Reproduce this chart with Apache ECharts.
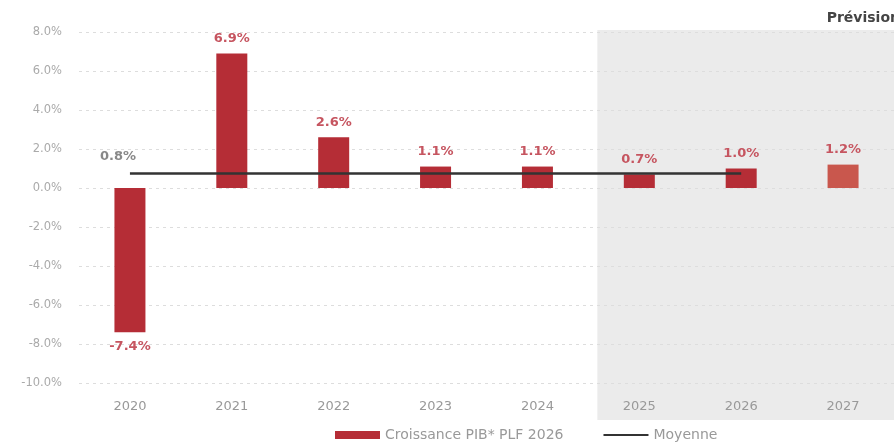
<!DOCTYPE html>
<html><head><meta charset="utf-8">
<script src="https://cdn.jsdelivr.net/npm/echarts@6/dist/echarts.min.js"></script>
<style>html,body{margin:0;padding:0;background:#fff}#c{width:894px;height:445px}</style>
</head><body><div id="c"></div>
<script>
const years = ['2020','2021','2022','2023','2024','2025','2026','2027'];
const growth = [-7.4, 6.9, 2.6, 1.1, 1.1, 0.7, 1.0, 1.2];
const meanValue = 0.75;
const meanLastIndex = 6;
const forecastStart = '2025';
const yTicks = {min: -10, max: 8, interval: 2};
const FONT = 'DejaVu Sans';

const chart = echarts.init(document.getElementById('c'));
const meanData = years.map((y, i) => i <= meanLastIndex ? meanValue : null);
const barData = growth.map((v, i) => ({
  value: v,
  itemStyle: {color: years[i] === '2027' ? '#c9574d' : '#b52d36'},
  label: {position: v < 0 ? 'bottom' : 'top'}
}));

chart.setOption({
  animation: false,
  grid: {left: 79, right: 0, top: 32, bottom: 62},
  legend: {
    top: 423, left: 330, padding: 5,
    itemWidth: 45, itemHeight: 8, itemGap: 40,
    textStyle: {fontFamily: FONT, fontSize: 14, color: '#999'},
    data: [
      {name: 'Croissance PIB* PLF 2026', icon: 'rect'},
      {name: 'Moyenne', icon: 'path://M0,3 L45,3 L45,5 L0,5 Z'}
    ]
  },
  xAxis: {
    type: 'category', data: years,
    axisLine: {show: false}, axisTick: {show: false},
    axisLabel: {fontFamily: FONT, fontSize: 13, color: '#999', margin: 17}
  },
  yAxis: {
    type: 'value', min: yTicks.min, max: yTicks.max, interval: yTicks.interval,
    axisLabel: {fontFamily: FONT, fontSize: 11.5, color: '#aaa', margin: 17,
      formatter: v => v.toFixed(1) + '%'},
    splitLine: {lineStyle: {color: '#ddd', type: [3, 4]}}
  },
  series: [
    {
      name: 'Croissance PIB* PLF 2026', type: 'bar', data: barData, barWidth: 31,
      itemStyle: {color: '#b52d36'},
      label: {show: true, distance: 8, fontFamily: FONT, fontWeight: 'bold', fontSize: 13,
        color: '#c65560', formatter: p => p.value.toFixed(1) + '%'},
      z: 2
    },
    {
      name: 'Moyenne', type: 'line', data: meanData, symbol: 'none', connectNulls: false,
      lineStyle: {color: '#333', width: 2.5}, itemStyle: {color: '#333'},
      z: 3,
      markPoint: {
        symbol: 'circle', symbolSize: 0,
        data: [{coord: [0, meanValue], value: meanValue}],
        label: {show: true, position: 'top', distance: 6, offset: [-12, -4],
          fontFamily: FONT, fontWeight: 'bold', fontSize: 13, color: '#888',
          formatter: p => p.value.toFixed(1) + '%'}
      }
    }
  ]
});

function drawShade() {
  const xStart = chart.convertToPixel({xAxisIndex: 0}, forecastStart);
  const xPrev = chart.convertToPixel({xAxisIndex: 0}, years[years.indexOf(forecastStart) - 1]);
  const left = (xStart + xPrev) / 2 + 9;
  const top = chart.convertToPixel({yAxisIndex: 0}, yTicks.max) - 2;
  chart.setOption({
    graphic: [
      {type: 'rect', z: -10, silent: true,
        shape: {x: left, y: top, width: 894 - left, height: 420 - top},
        style: {fill: '#ebebeb'}},
      {type: 'text', right: -6, top: 11,
        style: {text: 'Prévision', fontFamily: FONT, fontWeight: 'bold', fontSize: 14, fill: '#444'}}
    ]
  });
}
drawShade();
</script></body></html>
